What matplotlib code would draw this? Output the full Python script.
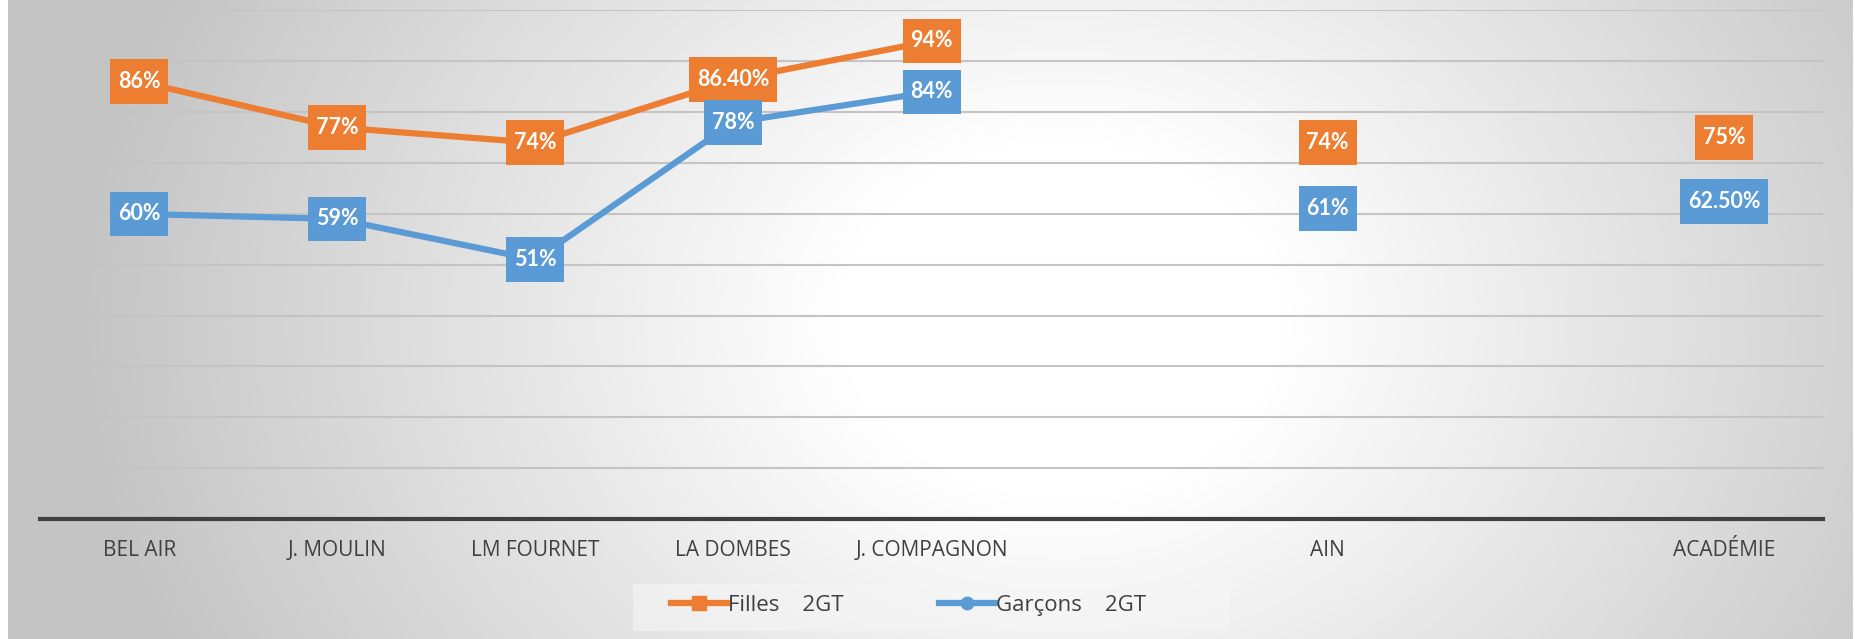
import numpy as np
import matplotlib
matplotlib.use('Agg')
from matplotlib import pyplot as plt
from matplotlib.path import Path
from matplotlib.patches import Rectangle

plt.rcParams['font.family'] = ['Open Sans', 'DejaVu Sans']

categories = ['BEL AIR', 'J. MOULIN', 'LM FOURNET', 'LA DOMBES', 'J. COMPAGNON', '', 'AIN', '', 'ACADÉMIE']
filles = [86, 77, 74, 86.4, 94, np.nan, 74, np.nan, 75]
garcons = [60, 59, 51, 78, 84, np.nan, 61, np.nan, 62.5]
filles_labels = ['86%', '77%', '74%', '86.40%', '94%', '', '74%', '', '75%']
garcons_labels = ['60%', '59%', '51%', '78%', '84%', '', '61%', '', '62.50%']

orange = '#ED7D31'
blue = '#5B9BD5'

fig = plt.figure(figsize=(18.56, 6.39), dpi=100)

# background gradient (radial, white centre -> grey edges)
bg = fig.add_axes([0, 0, 1, 1], zorder=-10)
W, H = 1856, 639
yy, xx = np.mgrid[0:H, 0:W]
d = np.sqrt(((xx - 1060) / 1000.0) ** 2 + ((yy - 320) / 800.0) ** 2)
t = np.clip((d - 0.22) / (0.98 - 0.22), 0, 1)
g = 1 - 0.23 * t
img = np.dstack([g, g, g])
img[:, :8] = 1.0
img[:, W - 3:] = 1.0
bg.imshow(img, aspect='auto', extent=[0, 1, 0, 1], origin='upper')
bg.axis('off')

ax = fig.add_axes([0.0216, 0.1878, 0.9606, 0.7958])
ax.patch.set_alpha(0)
x = np.arange(len(categories))

ax.plot(x, filles, color=orange, lw=4.5, marker='s', ms=10, label='Filles    2GT', zorder=3)
ax.plot(x, garcons, color=blue, lw=4.5, marker='o', ms=9, label='Garçons    2GT', zorder=3)


def label_box(x0, y0, width, height, mutation_size):
    # excel-like label box: less padding left/right than top/bottom
    px = 0.36 * mutation_size
    py = 0.55 * mutation_size
    x0, y0 = x0 - px, y0 - py
    x1, y1 = x0 + width + 2 * px, y0 + height + 2 * py
    return Path([(x0, y0), (x1, y0), (x1, y1), (x0, y1), (x0, y0)], closed=True)


def put_labels(vals, labels, color):
    for xi, v, s in zip(x, vals, labels):
        if s:
            ax.text(xi, v, s, ha='center', va='center', color='white', fontsize=15.5, fontweight='bold',
                    family=['Lato', 'DejaVu Sans'], zorder=5,
                    bbox=dict(boxstyle=label_box, fc=color, ec='none'))


put_labels(filles, filles_labels, orange)
put_labels(garcons, garcons_labels, blue)

ax.set_xlim(-0.5, len(categories) - 0.5)
ax.set_ylim(0, 100)
ax.set_yticks(np.arange(10, 101, 10))
ax.yaxis.grid(True, color='#c4c4c4', lw=1.5)
ax.set_axisbelow(True)
ax.tick_params(axis='y', left=False, labelleft=False)
ax.set_xticks(x)
ax.set_xticklabels(categories, fontsize=15, color='#404040')
ax.tick_params(axis='x', length=0, pad=15)
for s in ['top', 'right', 'left']:
    ax.spines[s].set_visible(False)
ax.spines['bottom'].set_color('#404040')
ax.spines['bottom'].set_linewidth(3)

# legend area background
fig.patches.append(Rectangle((0.341, 0.0125), 0.321, 0.0736, transform=fig.transFigure,
                             fc='#f6f6f6', ec='none', alpha=0.6, zorder=-5))
leg = fig.legend(loc='center left', bbox_to_anchor=(0.3616, 0.053), ncol=2, frameon=False,
                 fontsize=16, handlelength=2.5, columnspacing=4.3, handletextpad=0.05,
                 borderpad=0, borderaxespad=0)
for txt in leg.get_texts():
    txt.set_color('#404040')

fig.savefig('out.png', dpi=100)
